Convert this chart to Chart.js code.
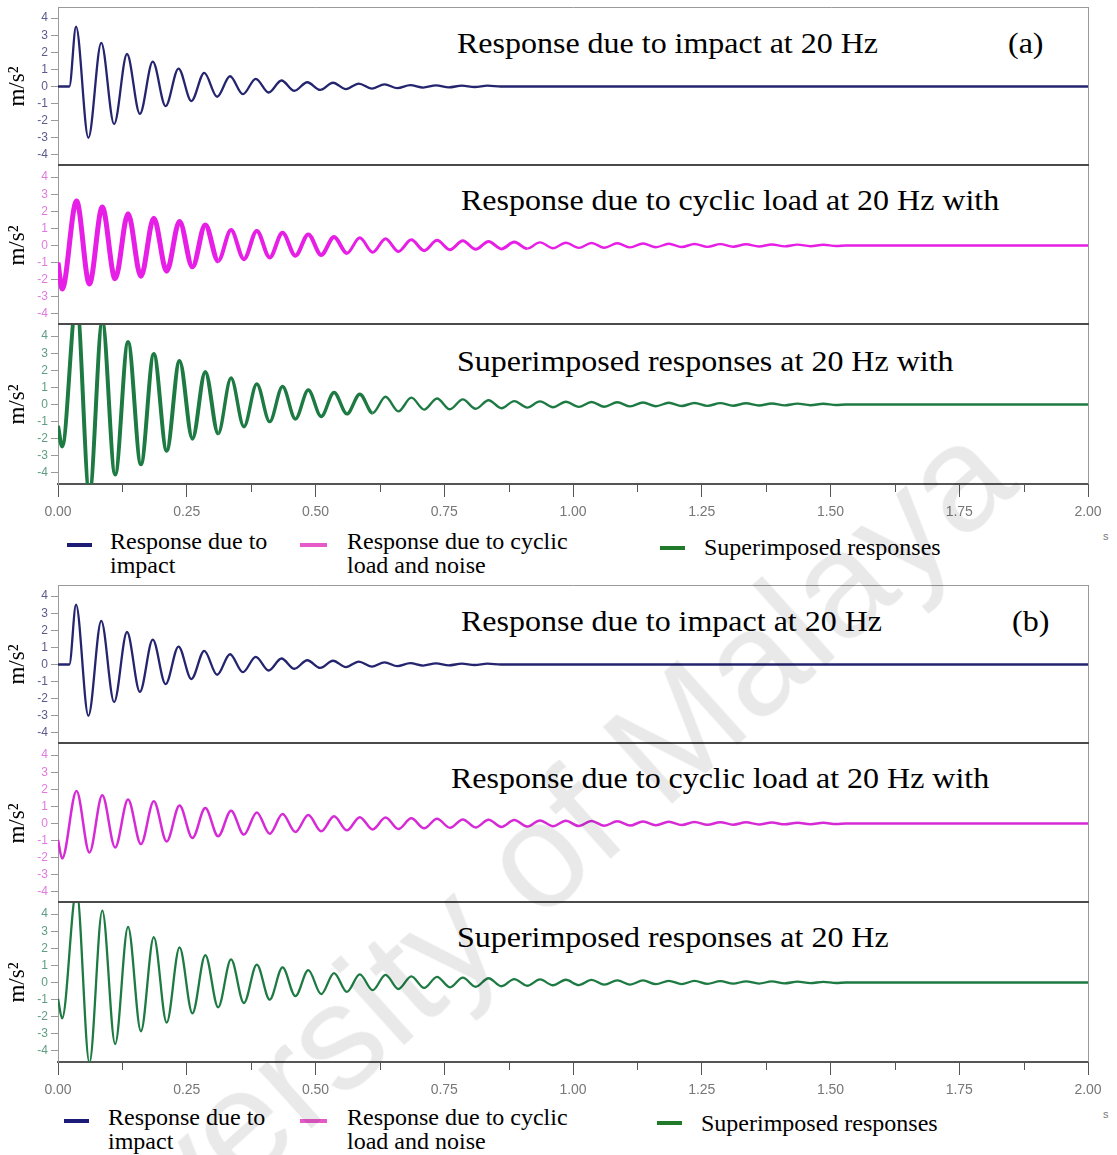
<!DOCTYPE html>
<html>
<head>
<meta charset="utf-8">
<script src="https://cdn.jsdelivr.net/npm/chart.js@4.4.0/dist/chart.umd.min.js"></script>
<style>
html,body{margin:0;padding:0;background:#fff;}
body{width:1117px;height:1155px;position:relative;overflow:hidden;}
canvas{position:absolute;left:0;}
.t{position:absolute;font-family:'Liberation Serif','Times New Roman',serif;color:#000;white-space:nowrap;line-height:1;}
.title{font-size:30px;transform-origin:0 0;transform:scaleX(1.066);}
.leg{font-size:24px;line-height:24px;}
.sw{position:absolute;height:4px;}
.unit{position:absolute;font:11px 'Liberation Sans',Arial,sans-serif;color:#777;}
.wm{position:absolute;left:486px;top:902px;transform:translate(-50%,-50%) rotate(-42deg);font:150px 'Liberation Sans',Arial,sans-serif;color:rgba(0,0,0,0.085);white-space:nowrap;pointer-events:none;z-index:5;}
</style>
</head>
<body>
<div class="t title" style="left:457px;top:28px;">Response due to impact at 20 Hz</div>
<div class="t title" style="left:1008px;top:28px;">(a)</div>
<div class="t title" style="left:461px;top:185px;">Response due to cyclic load at 20 Hz with</div>
<div class="t title" style="left:457px;top:346px;">Superimposed responses at 20 Hz with</div>
<div class="t title" style="left:461px;top:606px;">Response due to impact at 20 Hz</div>
<div class="t title" style="left:1012px;top:606px;">(b)</div>
<div class="t title" style="left:451px;top:763px;">Response due to cyclic load at 20 Hz with</div>
<div class="t title" style="left:457px;top:922px;">Superimposed responses at 20 Hz</div>

<div class="sw" style="left:67px;top:543px;width:25px;background:#1c1c78;"></div>
<div class="t leg" style="left:110px;top:529px;">Response due to<br>impact</div>
<div class="sw" style="left:300px;top:543px;width:27px;background:#e659c8;"></div>
<div class="t leg" style="left:347px;top:529px;">Response due to cyclic<br>load and noise</div>
<div class="sw" style="left:660px;top:546px;width:25px;background:#217a2a;"></div>
<div class="t leg" style="left:704px;top:535px;">Superimposed responses</div>
<div class="unit" style="left:1103px;top:530px;">s</div>

<div class="sw" style="left:64px;top:1119px;width:25px;background:#1c1c78;"></div>
<div class="t leg" style="left:108px;top:1105px;">Response due to<br>impact</div>
<div class="sw" style="left:300px;top:1119px;width:27px;background:#e659c8;"></div>
<div class="t leg" style="left:347px;top:1105px;">Response due to cyclic<br>load and noise</div>
<div class="sw" style="left:657px;top:1121px;width:25px;background:#217a2a;"></div>
<div class="t leg" style="left:701px;top:1111px;">Superimposed responses</div>
<div class="unit" style="left:1103px;top:1108px;">s</div>

<div class="wm">University of Malaya</div>

<script>
// ---- axis ticks ----
const X_TICKS = [0, 0.25, 0.5, 0.75, 1.0, 1.25, 1.5, 1.75, 2.0];
const X_MINOR = [0.125, 0.375, 0.625, 0.875, 1.125, 1.375, 1.625, 1.875];
const Y_TICKS = [-4, -3, -2, -1, 0, 1, 2, 3, 4];
const Y_MIN = -4.65;
const Y_MAX = 4.65;

// ---- impact response (s, m/s^2): extrema ----
const impactT = [0, 0.022, 0.035, 0.059, 0.084, 0.109, 0.134, 0.159, 0.184, 0.209, 0.234, 0.259, 0.284, 0.309, 0.334, 0.359, 0.384, 0.409, 0.434, 0.459, 0.484, 0.509, 0.534, 0.559, 0.584, 0.609, 0.634, 0.659, 0.684, 0.709, 0.734, 0.759, 0.784, 0.809, 0.834, 0.86, 2.0];
const impactV = [0, 0, 3.5, -3.0, 2.55, -2.2, 1.9, -1.6, 1.45, -1.15, 1.05, -0.85, 0.8, -0.6, 0.6, -0.45, 0.45, -0.35, 0.35, -0.25, 0.25, -0.2, 0.22, -0.15, 0.17, -0.12, 0.13, -0.1, 0.08, -0.06, 0.07, -0.05, 0.05, -0.03, 0.05, 0, 0];

// ---- cyclic / superimposed responses: shared extrema times ----
const cycT = [0, 0.008, 0.036, 0.061, 0.086, 0.111, 0.136, 0.161, 0.186, 0.211, 0.236, 0.261, 0.286, 0.311, 0.336, 0.361, 0.386, 0.411, 0.436, 0.461, 0.486, 0.511, 0.536, 0.561, 0.586, 0.611, 0.636, 0.661, 0.686, 0.711, 0.736, 0.761, 0.786, 0.811, 0.836, 0.861, 0.886, 0.911, 0.936, 0.961, 0.986, 1.011, 1.036, 1.061, 1.086, 1.111, 1.136, 1.161, 1.186, 1.211, 1.236, 1.261, 1.286, 1.311, 1.336, 1.361, 1.386, 1.411, 1.436, 1.461, 1.486, 1.511, 1.53, 2.0];

// (a) cyclic load with noise
const cyclicA = [-1.0, -2.55, 2.6, -2.25, 2.25, -1.95, 1.85, -1.8, 1.6, -1.5, 1.4, -1.25, 1.2, -0.9, 0.9, -0.8, 0.85, -0.7, 0.75, -0.6, 0.65, -0.55, 0.5, -0.45, 0.45, -0.4, 0.4, -0.35, 0.33, -0.3, 0.3, -0.25, 0.28, -0.22, 0.24, -0.2, 0.2, -0.18, 0.18, -0.16, 0.16, -0.14, 0.15, -0.13, 0.13, -0.11, 0.12, -0.1, 0.1, -0.09, 0.09, -0.08, 0.08, -0.07, 0.07, -0.06, 0.06, -0.05, 0.05, -0.04, 0.04, -0.03, 0, 0];
// (a) superimposed
const superA = [-1.25, -2.45, 6.0, -5.2, 4.85, -4.1, 3.65, -3.5, 2.95, -2.7, 2.55, -2.0, 1.9, -1.7, 1.55, -1.3, 1.2, -1.0, 1.05, -0.85, 0.85, -0.7, 0.7, -0.55, 0.6, -0.5, 0.45, -0.4, 0.4, -0.3, 0.35, -0.28, 0.3, -0.25, 0.25, -0.22, 0.2, -0.18, 0.18, -0.16, 0.16, -0.14, 0.15, -0.13, 0.13, -0.11, 0.12, -0.1, 0.1, -0.09, 0.09, -0.08, 0.08, -0.07, 0.07, -0.06, 0.06, -0.05, 0.05, -0.04, 0.04, -0.03, 0, 0];
// (b) cyclic load
const cyclicB = [-0.95, -2.05, 1.9, -1.7, 1.65, -1.4, 1.4, -1.2, 1.3, -1.05, 1.05, -0.85, 0.9, -0.75, 0.75, -0.65, 0.65, -0.6, 0.55, -0.5, 0.5, -0.45, 0.42, -0.4, 0.37, -0.35, 0.35, -0.32, 0.3, -0.28, 0.28, -0.25, 0.24, -0.23, 0.22, -0.2, 0.2, -0.18, 0.18, -0.16, 0.16, -0.15, 0.15, -0.13, 0.13, -0.12, 0.12, -0.1, 0.1, -0.09, 0.09, -0.08, 0.08, -0.07, 0.07, -0.06, 0.06, -0.05, 0.05, -0.04, 0.04, -0.03, 0, 0];
// (b) superimposed
const superB = [-0.95, -2.1, 5.4, -4.7, 4.2, -3.6, 3.25, -2.85, 2.65, -2.35, 2.05, -1.8, 1.6, -1.45, 1.35, -1.2, 1.05, -1.0, 0.88, -0.8, 0.72, -0.68, 0.55, -0.55, 0.48, -0.45, 0.45, -0.38, 0.36, -0.32, 0.33, -0.28, 0.28, -0.25, 0.25, -0.22, 0.2, -0.19, 0.18, -0.16, 0.16, -0.15, 0.15, -0.13, 0.13, -0.12, 0.12, -0.1, 0.1, -0.09, 0.09, -0.08, 0.08, -0.07, 0.07, -0.06, 0.06, -0.05, 0.05, -0.04, 0.04, -0.03, 0, 0];

const SERIES = ['Response due to impact', 'Response due to cyclic load and noise', 'Superimposed responses'];

function zip(t, v) {
  const n = Math.min(t.length, v.length);
  const out = [];
  for (let i = 0; i < n; i++) out.push({x: t[i], y: v[i]});
  return out;
}

const PANEL_H = 159;
const AXIS_H = 50;
const SANS = "'Liberation Sans', Arial, sans-serif";
const SERIF = "'Liberation Serif', 'Times New Roman', serif";

const noisyA = ctx => { const x = ctx.p0.parsed.x; return x < 0.3 ? 5 : x < 0.55 ? 4 : x < 0.9 ? 3 : 2.4; };
const noisyS = ctx => { const x = ctx.p0.parsed.x; return x < 0.3 ? 4 : x < 0.6 ? 3.4 : 2.4; };

const PANELS = [
  {top: 7,   t: impactT, v: impactV, name: SERIES[0], color: '#24246f', tick: '#5b5b8e', bw: 2.3, first: true,  last: false},
  {top: 166, t: cycT,    v: cyclicA, name: SERIES[1], color: '#e61ee6', tick: '#e07ae0', bw: 3, seg: noisyA, first: false, last: false},
  {top: 325, t: cycT,    v: superA,  name: SERIES[2], color: '#1d7a42', tick: '#5e9e82', bw: 3, seg: noisyS, first: false, last: true},
  {top: 585, t: impactT, v: impactV, name: SERIES[0], color: '#24246f', tick: '#5b5b8e', bw: 2.3, first: true,  last: false},
  {top: 744, t: cycT,    v: cyclicB, name: SERIES[1], color: '#d62ad6', tick: '#e07ae0', bw: 2.5, first: false, last: false},
  {top: 903, t: cycT,    v: superB,  name: SERIES[2], color: '#1d7a42', tick: '#5e9e82', bw: 2.3, first: false, last: true}
];

const framePlugin = {
  id: 'frame',
  afterDatasetsDraw(chart, args, opts) {
    const {ctx, chartArea: a} = chart;
    ctx.save();
    ctx.strokeStyle = '#9a9a9a';
    ctx.lineWidth = 1;
    ctx.beginPath(); ctx.moveTo(a.right + 0.5, a.top); ctx.lineTo(a.right + 0.5, a.bottom); ctx.stroke();
    if (opts.first) {
      ctx.beginPath(); ctx.moveTo(a.left, a.top + 0.5); ctx.lineTo(a.right + 1, a.top + 0.5); ctx.stroke();
    }
    if (!opts.last) {
      ctx.strokeStyle = '#4a4a4a'; ctx.lineWidth = 2;
      ctx.beginPath(); ctx.moveTo(a.left, a.bottom - 1); ctx.lineTo(a.right + 1, a.bottom - 1); ctx.stroke();
    } else {
      const xs = chart.scales.x;
      ctx.strokeStyle = '#555'; ctx.lineWidth = 1;
      X_MINOR.forEach(v => {
        const px = Math.round(xs.getPixelForValue(v)) + 0.5;
        ctx.beginPath(); ctx.moveTo(px, a.bottom); ctx.lineTo(px, a.bottom + 8); ctx.stroke();
      });
    }
    ctx.restore();
  }
};

PANELS.forEach(p => {
  const cv = document.createElement('canvas');
  const h = PANEL_H + (p.last ? AXIS_H : 0);
  cv.width = 1117; cv.height = h;
  cv.style.width = '1117px'; cv.style.height = h + 'px';
  cv.style.top = p.top + 'px';
  document.body.appendChild(cv);
  const ds = {
    label: p.name,
    data: zip(p.t, p.v),
    borderColor: p.color,
    borderWidth: p.bw,
    pointRadius: 0,
    fill: false,
    cubicInterpolationMode: 'monotone',
    clip: 0
  };
  if (p.seg) ds.segment = {borderWidth: p.seg};
  new Chart(cv, {
    type: 'line',
    data: {datasets: [ds]},
    options: {
      responsive: false,
      animation: false,
      devicePixelRatio: 1,
      events: [],
      layout: {padding: {left: 0, right: 29, top: 0, bottom: 0}},
      plugins: {legend: {display: false}, tooltip: {enabled: false}, frame: {first: p.first, last: p.last}},
      scales: {
        x: {
          type: 'linear', min: 0, max: 2, display: p.last,
          afterBuildTicks: s => { s.ticks = X_TICKS.map(v => ({value: v})); },
          afterFit: s => { s.height = p.last ? AXIS_H : 0; s.paddingLeft = 0; s.paddingRight = 0; },
          grid: {drawOnChartArea: false, drawTicks: true, tickLength: 13, tickColor: '#555', tickWidth: 1},
          border: {display: true, color: '#555', width: 2},
          ticks: {autoSkip: false, maxRotation: 0, padding: 7, color: '#777', font: {family: SANS, size: 14}, callback: v => Number(v).toFixed(2)}
        },
        y: {
          type: 'linear', min: Y_MIN, max: Y_MAX,
          afterBuildTicks: s => { s.ticks = Y_TICKS.map(v => ({value: v})); },
          afterFit: s => { s.width = 58; s.paddingTop = 0; s.paddingBottom = 0; },
          grid: {drawOnChartArea: false, drawTicks: true, tickLength: 7, tickColor: '#9a9a9a'},
          border: {display: true, color: '#9a9a9a', width: 1},
          ticks: {autoSkip: false, padding: 3, color: p.tick, font: {family: SANS, size: 12}, callback: v => String(v)},
          title: {display: true, text: 'm/s²', color: '#000', font: {family: SERIF, size: 23}, padding: {top: 4, bottom: 0}}
        }
      }
    },
    plugins: [framePlugin]
  });
});
</script>
</body>
</html>
